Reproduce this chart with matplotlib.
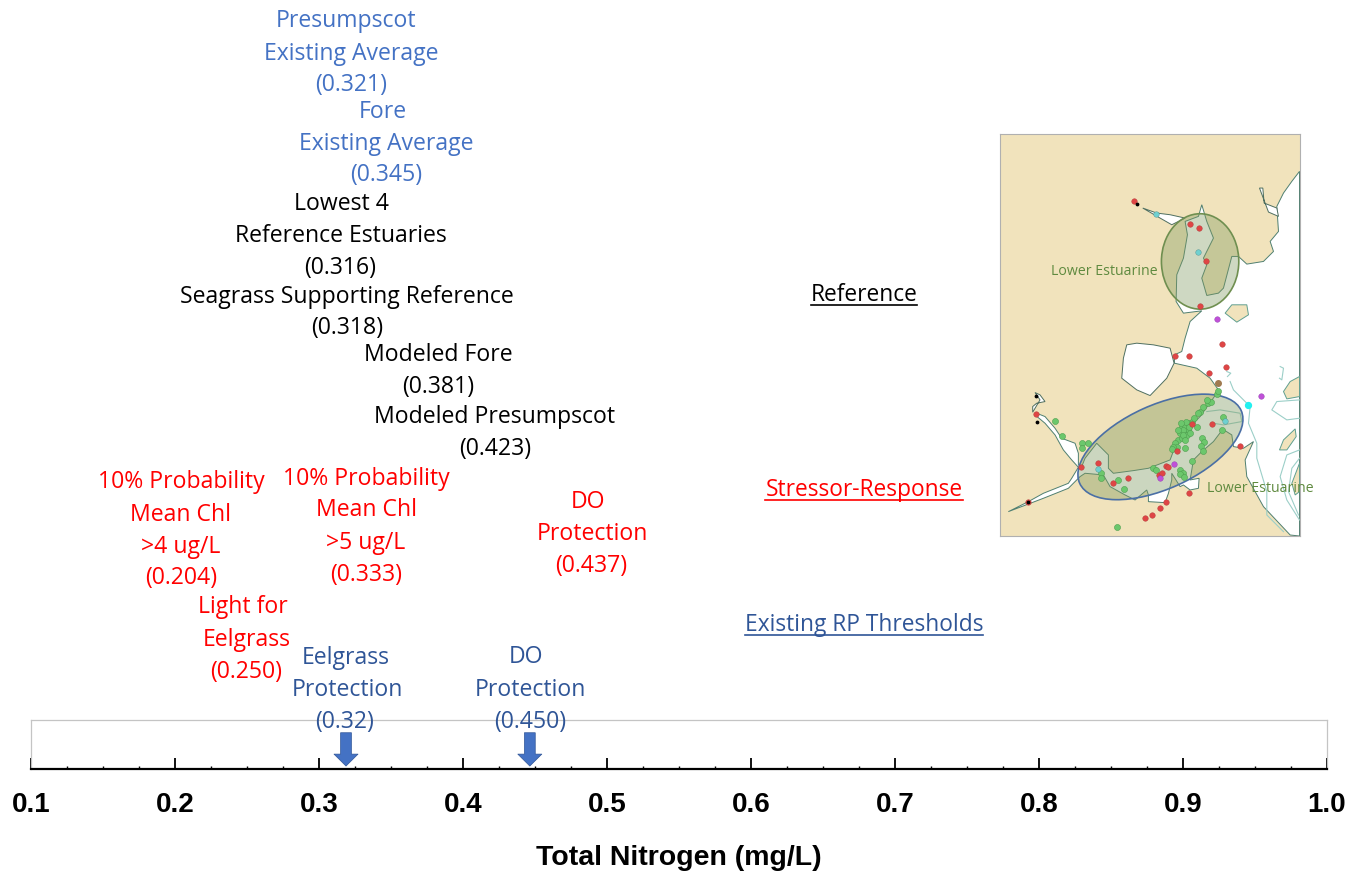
import matplotlib
matplotlib.use('Agg')
import matplotlib.pyplot as plt
from matplotlib.patches import Ellipse, Polygon

W, H = 1360, 871
BLUE = '#4472C4'
DARK = '#2F5597'
RED = '#FF0000'

# x axis
major_ticks = [0.1, 0.2, 0.3, 0.4, 0.5, 0.6, 0.7, 0.8, 0.9, 1.0]
minor_ticks = [0.125, 0.15, 0.175, 0.225, 0.25, 0.275, 0.325, 0.35, 0.375, 0.425, 0.45, 0.475,
               0.525, 0.55, 0.575, 0.625, 0.65, 0.675, 0.725, 0.75, 0.775, 0.825, 0.85, 0.875,
               0.925, 0.95, 0.975]
arrow_values = [0.3187, 0.4464]

# label lines: text, centre x, centre y (pixels)
light_blue_lines = [('Presumpscot', 346, 19), ('Existing Average', 351, 52), ('(0.321)', 351, 83),
                    ('Fore', 383, 110), ('Existing Average', 386, 142), ('(0.345)', 386, 173)]
black_lines = [('Lowest 4', 341, 202), ('Reference Estuaries', 341, 234), ('(0.316)', 340, 266),
               ('Seagrass Supporting Reference', 347, 295), ('(0.318)', 347, 326),
               ('Modeled Fore', 438, 353), ('(0.381)', 438, 385),
               ('Modeled Presumpscot', 495, 415), ('(0.423)', 495, 447)]
red_lines = [('10% Probability', 181, 480), ('Mean Chl', 181, 513), ('>4 ug/L', 181, 545), ('(0.204)', 181, 576),
             ('Light for', 243, 605), ('Eelgrass', 247, 638), ('(0.250)', 246, 670),
             ('10% Probability', 366, 477), ('Mean Chl', 366, 508), ('>5 ug/L', 366, 541), ('(0.333)', 366, 573),
             ('DO', 588, 500), ('Protection', 592, 532), ('(0.437)', 591, 564)]
dark_lines = [('Eelgrass', 346, 656), ('Protection', 347, 688), ('(0.32)', 345, 720),
              ('DO', 526, 655), ('Protection', 530, 688), ('(0.450)', 530, 720)]
headings = [('Reference', 864, 293, 'black'), ('Stressor-Response', 864, 488, RED),
            ('Existing RP Thresholds', 864, 623, DARK)]

# map outlines
water = [(928, 140), (905, 170), (880, 205), (860, 245), (865, 320), (840, 350), (850, 380), (820, 410), (770, 418),
         (745, 395), (725, 395), (700, 490), (685, 505), (650, 512), (635, 460), (650, 420), (640, 400), (670, 340),
         (650, 290), (635, 240), (625, 275), (585, 290), (592, 330), (580, 400), (560, 450), (558, 530), (580, 565),
         (635, 558), (600, 590), (585, 640), (575, 680), (553, 690), (553, 715), (620, 730), (660, 760), (685, 795),
         (680, 805), (630, 875), (590, 915), (555, 965), (540, 1005), (475, 1030), (430, 1037), (370, 1045),
         (355, 1030), (355, 990), (320, 955), (285, 1000), (275, 1025), (265, 1020), (265, 985), (255, 955),
         (215, 940), (195, 910), (165, 875), (140, 865), (135, 870), (165, 895), (195, 930), (220, 975), (245, 1005),
         (265, 1027), (245, 1060), (235, 1075), (160, 1105), (115, 1130), (55, 1160), (160, 1120), (235, 1090),
         (270, 1055), (285, 1045), (340, 1050), (360, 1085), (405, 1110), (435, 1125), (470, 1095), (475, 1110),
         (475, 1130), (525, 1133), (535, 1105), (545, 1065), (545, 1045), (570, 1085), (580, 1080), (600, 1095),
         (625, 1090), (627, 1060), (600, 1065), (610, 1005), (635, 980), (670, 950), (698, 913), (725, 930),
         (730, 965), (760, 970), (790, 950), (765, 1005), (770, 1055), (820, 1145), (900, 1230), (928, 1233)]
lake = [(410, 660), (440, 655), (490, 660), (540, 670), (552, 715), (530, 760), (480, 812), (440, 795), (395, 760),
        (400, 700)]
creek = [(458, 250), (500, 265), (540, 270), (585, 280), (545, 300), (510, 280)]
inlet = [(808, 190), (818, 190), (822, 235), (860, 250), (865, 275), (835, 262)]
head_water = [(128, 845), (140, 835), (165, 830), (150, 810), (135, 803), (150, 825), (128, 862)]
island_a = [(705, 565), (725, 540), (770, 540), (775, 570), (740, 592)]
island_b = [(880, 800), (900, 770), (928, 755), (928, 815), (890, 822)]
island_c = [(868, 975), (880, 945), (915, 912), (918, 935), (890, 975)]
island_d = [(905, 1075), (928, 1015), (928, 1100), (915, 1110)]
contour_a = [(720, 770), (730, 795), (780, 845), (775, 895), (800, 955), (800, 1000), (830, 1100), (830, 1170),
             (880, 1220)]
contour_b = [(928, 825), (860, 830), (845, 855), (890, 885), (928, 880)]
contour_c = [(928, 975), (890, 990), (870, 1055), (890, 1125), (928, 1185)]
contour_d = [(928, 1000), (905, 1030), (895, 1100), (925, 1170)]
contour_e = [(650, 860), (690, 855), (750, 865), (755, 890), (700, 900), (670, 895)]
contour_f = [(870, 725), (880, 730), (875, 765), (868, 760)]
contour_g = [(710, 740), (722, 745), (712, 755)]

red_u = [433, 600, 626, 649, 629, 696, 554, 598, 708, 658, 323, 272, 368, 415, 508, 515, 527, 535, 562, 605, 666, 137,
         115, 597, 528, 509, 486, 464, 751]
red_v = [228, 299, 310, 409, 543, 656, 692, 692, 726, 745, 1013, 1025, 1075, 1058, 1050, 1043, 1022, 1027, 978, 897,
         897, 868, 1132, 1104, 1132, 1150, 1170, 1180, 962]
green_u = [195, 217, 275, 293, 275, 332, 333, 385, 402, 490, 497, 570, 580, 570, 583, 605, 635, 642, 633, 640, 585,
           697, 698, 655, 663, 680, 685, 630, 620, 575, 585, 595, 580, 590, 570, 600, 565, 555, 560, 550, 575, 605,
           595, 580, 565, 625, 380, 588, 598, 612, 572, 545, 640, 650, 578, 586]
green_v = [888, 932, 955, 955, 970, 1045, 1059, 1065, 1093, 1030, 1035, 1035, 1045, 1047, 1055, 1007, 940, 950, 963,
           977, 970, 915, 877, 835, 830, 807, 797, 860, 905, 905, 905, 915, 920, 930, 925, 925, 945, 955, 965, 965,
           940, 890, 895, 915, 915, 865, 1207, 890, 905, 880, 895, 972, 845, 825, 930, 945]
purple_u = [681, 814, 553, 510]
purple_v = [582, 812, 1018, 1060]
teal_u = [499, 624, 325, 704]
teal_v = [269, 383, 1031, 887]
cyan_u = [775]
cyan_v = [840]
brown_u = [685]
brown_v = [775]
black_u = [137, 140, 442, 115]
black_v = [813, 890, 237, 1132]


def fx(x):
    return x / W


def fy(y):
    return 1 - y / H


fig = plt.figure(figsize=(13.6, 8.71), dpi=100)

ax = fig.add_axes([fx(31.2), fy(769), (1326.7 - 31.2) / W, 49 / H])
ax.set_xlim(0.1, 1.0)
ax.set_ylim(0, 1)
ax.set_yticks([])
ax.set_xticks(major_ticks)
ax.set_xticks(minor_ticks, minor=True)
ax.set_xticklabels(['%.1f' % t for t in major_ticks], family='Liberation Sans', fontweight='bold', fontsize=20)
ax.tick_params(axis='x', which='major', direction='in', length=8, width=1.3, pad=16.5)
ax.tick_params(axis='x', which='minor', direction='in', length=2.2, width=1)
for s in ['top', 'left', 'right']:
    ax.spines[s].set_color('#C4C4C4')
    ax.spines[s].set_linewidth(0.9)
ax.spines['bottom'].set_linewidth(1.6)
ax.set_xlabel('Total Nitrogen (mg/L)', family='Liberation Sans', fontweight='bold', fontsize=20.5, labelpad=19.5)

for v in arrow_values:
    ax.annotate('', xy=(v, 0.06), xytext=(v, 0.74),
                arrowprops=dict(arrowstyle='simple,head_width=1.73,head_length=0.86,tail_width=0.78',
                                fc=BLUE, ec=DARK, lw=0.5, mutation_scale=10, shrinkA=0, shrinkB=0),
                zorder=5, annotation_clip=False)

for lines, col in [(light_blue_lines, BLUE), (black_lines, 'black'), (red_lines, RED), (dark_lines, DARK)]:
    for t, x, y in lines:
        fig.text(fx(x), fy(y + 2), t, color=col, family='Open Sans', fontsize=16.6, ha='center', va='center', zorder=6)

for t, x, y, col in headings:
    txt = fig.text(fx(x), fy(y + 2), t, color=col, family='Open Sans', fontsize=16.4, ha='center', va='center')
    fig.canvas.draw()
    bb = txt.get_window_extent()
    fig.add_artist(plt.Line2D([bb.x0 / W, bb.x1 / W], [fy(y + 12)] * 2, color=col, lw=1.2))

# inset map
BEIGE = '#F1E3BC'
m = fig.add_axes([fx(1000), fy(536), 299.5 / W, 402 / H])
m.set_xlim(30, 928)
m.set_ylim(1233, 28)
m.set_xticks([])
m.set_yticks([])
m.set_facecolor(BEIGE)
for s in m.spines.values():
    s.set_color('#B0B0B0')
    s.set_linewidth(0.8)

m.add_patch(Polygon(water, fc='white', ec='#4F7F70', lw=0.7))
for shape in [lake, creek, inlet, head_water]:
    m.add_patch(Polygon(shape, fc='white', ec='#4F6F60', lw=0.7))
for isl in [island_a, island_b, island_c, island_d]:
    m.add_patch(Polygon(isl, fc=BEIGE, ec='#5F9F90', lw=0.7))
for c in [contour_a, contour_b, contour_c, contour_d, contour_e, contour_f, contour_g]:
    m.plot(*zip(*c), color='#9CCFC8', lw=0.8)

m.add_patch(Ellipse((630, 410), 232, 286, fc='#7F9A5F', ec='none', alpha=0.38, zorder=3))
m.add_patch(Ellipse((630, 410), 232, 286, fc='none', ec='#6F8F50', lw=1.2, zorder=3))
m.add_patch(Ellipse((511, 966), 531, 251, angle=-24.3, fc='#7F9A5F', ec='none', alpha=0.40, zorder=3))
m.add_patch(Ellipse((511, 966), 531, 251, angle=-24.3, fc='none', ec='#4A6FA5', lw=1.2, zorder=3))

m.scatter(green_u, green_v, s=19, c='#6CC76C', edgecolors='#4F9F4F', linewidths=0.4, zorder=4)
m.scatter(red_u, red_v, s=16, c='#DF4545', edgecolors='#B03A3A', linewidths=0.3, zorder=5)
m.scatter(purple_u, purple_v, s=16, c='#C050D8', edgecolors='#9040B0', linewidths=0.3, zorder=5)
m.scatter(teal_u, teal_v, s=16, c='#6FD0D0', edgecolors='#509090', linewidths=0.3, zorder=5)
m.scatter(cyan_u, cyan_v, s=18, c='#22F0F0', zorder=5)
m.scatter(brown_u, brown_v, s=16, c='#A07A50', zorder=5)
m.scatter(black_u, black_v, s=3, c='black', zorder=6)

m.text(343, 441, 'Lower Estuarine', color='#5F8A3F', family='Open Sans', fontsize=10.2, ha='center', va='center',
       zorder=6)
m.text(651, 1092, 'Lower Estuarine', color='#5F8A3F', family='Open Sans', fontsize=10.2, ha='left', va='center',
       zorder=6, clip_on=False)

fig.savefig('out.png', dpi=100)
